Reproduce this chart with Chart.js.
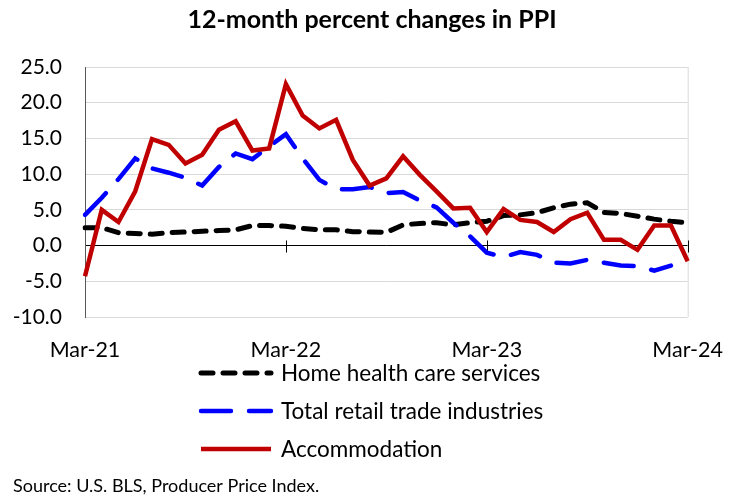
<!DOCTYPE html>
<html>
<head>
<meta charset="utf-8">
<script src="https://cdn.jsdelivr.net/npm/chart.js@4.4.1/dist/chart.umd.min.js"></script>
<style>
    html, body { margin: 0; padding: 0; background: #fff; }
    #wrap { position: relative; width: 743px; height: 500px; }
</style>
</head>
<body>
<div id="wrap"><canvas id="ppiChart" width="743" height="500"></canvas></div>
<script>
// Months Mar-21 .. Mar-24
const months = [
    "Mar-21", "Apr-21", "May-21", "Jun-21", "Jul-21", "Aug-21", "Sep-21", "Oct-21", "Nov-21", "Dec-21", "Jan-22", "Feb-22",
    "Mar-22", "Apr-22", "May-22", "Jun-22", "Jul-22", "Aug-22", "Sep-22", "Oct-22", "Nov-22", "Dec-22", "Jan-23", "Feb-23",
    "Mar-23", "Apr-23", "May-23", "Jun-23", "Jul-23", "Aug-23", "Sep-23", "Oct-23", "Nov-23", "Dec-23", "Jan-24", "Feb-24",
    "Mar-24"
];

const homeHealth = [
    2.5, 2.5, 1.8, 1.7, 1.6, 1.8, 1.9, 2.0, 2.1, 2.2, 2.8, 2.8,
    2.7, 2.4, 2.2, 2.2, 1.95, 1.9, 1.85, 2.9, 3.1, 3.2, 2.9, 3.2,
    3.4, 4.2, 4.3, 4.6, 5.3, 5.8, 6.0, 4.65, 4.5, 4.1, 3.7, 3.4,
    3.2
];

const retailTrade = [
    4.3, 6.7, 9.3, 12.2, 10.8, 10.2, 9.5, 8.4, 11.0, 12.9, 12.1, 13.9,
    15.6, 12.2, 9.2, 7.9, 7.9, 8.2, 7.35, 7.5, 6.3, 5.35, 3.2, 1.3,
    -1.0, -1.6, -0.9, -1.3, -2.4, -2.5, -2.0, -2.4, -2.8, -2.9, -3.5, -2.8,
    null
];

const accommodation = [
    -4.3, 5.0, 3.3, 7.6, 14.9, 14.1, 11.5, 12.7, 16.2, 17.4, 13.3, 13.6,
    22.6, 18.2, 16.4, 17.6, 12.0, 8.4, 9.4, 12.5, 9.9, 7.6, 5.2, 5.3,
    1.9, 5.1, 3.6, 3.3, 1.9, 3.7, 4.6, 0.8, 0.8, -0.6, 2.8, 2.8,
    -2.2
];

const yTicks = [-10, -5, 0, 5, 10, 15, 20, 25];
const seriesNames = ["Home health care services", "Total retail trade industries", "Accommodation"];
const chartTitle = "12-month percent changes in PPI";

const FONT = "Lato, 'Noto Sans', sans-serif";

// draws the title, right border, the tick marks on the zero line, the legend and the source note
const extrasPlugin = {
    id: "extras",
    beforeDatasetsDraw(chart) {
        const ctx = chart.ctx;
        const area = chart.chartArea;
        const x = chart.scales.x;
        const y = chart.scales.y;
        ctx.save();
        ctx.strokeStyle = "#d9d9d9";
        ctx.lineWidth = 1;
        ctx.beginPath();
        ctx.moveTo(area.right + 0.5, area.top);
        ctx.lineTo(area.right + 0.5, area.bottom);
        ctx.stroke();
        // small ticks crossing the zero line every 12 months
        const zero = Math.round(y.getPixelForValue(0)) + 0.5;
        ctx.strokeStyle = "#000";
        ctx.beginPath();
        for (let i = 12; i < months.length; i += 12) {
            const px = Math.round(x.getPixelForValue(i)) + 0.5;
            ctx.moveTo(px, zero - 6);
            ctx.lineTo(px, zero + 6);
        }
        ctx.stroke();
        ctx.restore();
    },
    afterDraw(chart) {
        const ctx = chart.ctx;
        ctx.save();
        ctx.fillStyle = "#000";
        ctx.textBaseline = "middle";
        ctx.textAlign = "center";
        ctx.font = "bold 25px " + FONT;
        ctx.fillText(chartTitle, 372, 20);

        const rows = [373, 411, 449];
        chart.data.datasets.slice().sort((a, b) => b.order - a.order).forEach((ds, k) => {
            const ly = rows[k];
            ctx.strokeStyle = ds.borderColor;
            ctx.lineWidth = ds.borderWidth;
            ctx.lineCap = ds.borderCapStyle || "butt";
            ctx.setLineDash(ds.borderDash || []);
            ctx.beginPath();
            ctx.moveTo(201, ly);
            ctx.lineTo(271, ly);
            ctx.stroke();
            ctx.setLineDash([]);
            ctx.fillStyle = "#000";
            ctx.font = "22.5px " + FONT;
            ctx.textAlign = "left";
            ctx.fillText(ds.label, 281, ly + 1);
        });
        ctx.font = "18px " + FONT;
        ctx.fillText("Source: U.S. BLS, Producer Price Index.", 13, 486);
        ctx.restore();
    }
};

const ctx = document.getElementById("ppiChart").getContext("2d");
new Chart(ctx, {
    type: "line",
    data: {
        labels: months,
        datasets: [
            {
                label: seriesNames[0],
                data: homeHealth,
                borderColor: "#000000",
                borderWidth: 5,
                borderDash: [12, 10],
                borderCapStyle: "round",
                order: 3
            },
            {
                label: seriesNames[1],
                data: retailTrade,
                borderColor: "#0000ff",
                borderWidth: 4.5,
                borderDash: [30, 18],
                borderCapStyle: "round",
                order: 2
            },
            {
                label: seriesNames[2],
                data: accommodation,
                borderColor: "#c00000",
                borderWidth: 4.5,
                borderCapStyle: "butt",
                order: 1
            }
        ]
    },
    options: {
        responsive: false,
        animation: false,
        events: [],
        elements: {
            point: { radius: 0 },
            line: { tension: 0, borderJoinStyle: "miter" }
        },
        layout: { padding: { left: 0, right: 51, top: 67, bottom: 0 } },
        plugins: {
            legend: { display: false },
            tooltip: { enabled: false },
            title: { display: false }
        },
        scales: {
            x: {
                offset: false,
                grid: { display: false, drawTicks: false },
                border: { display: false },
                afterFit: s => { s.height = 183; },
                ticks: {
                    autoSkip: false,
                    maxRotation: 0,
                    padding: 20,
                    color: "#000",
                    font: { family: FONT, size: 21.5 },
                    callback: (v, i) => (i % 12 === 0 ? months[i] : "")
                }
            },
            y: {
                min: yTicks[0],
                max: yTicks[yTicks.length - 1],
                afterFit: s => { s.width = 85; },
                afterBuildTicks: s => { s.ticks = yTicks.map(v => ({ value: v })); },
                border: { display: true, color: "#595959", width: 1 },
                grid: {
                    drawTicks: false,
                    color: c => (c.tick && c.tick.value === 0 ? "#000000" : "#d9d9d9"),
                    lineWidth: 1
                },
                ticks: {
                    padding: 23,
                    color: "#000",
                    font: { family: FONT, size: 21 },
                    callback: v => Number(v).toFixed(1)
                }
            }
        }
    },
    plugins: [extrasPlugin]
});
</script>
</body>
</html>
